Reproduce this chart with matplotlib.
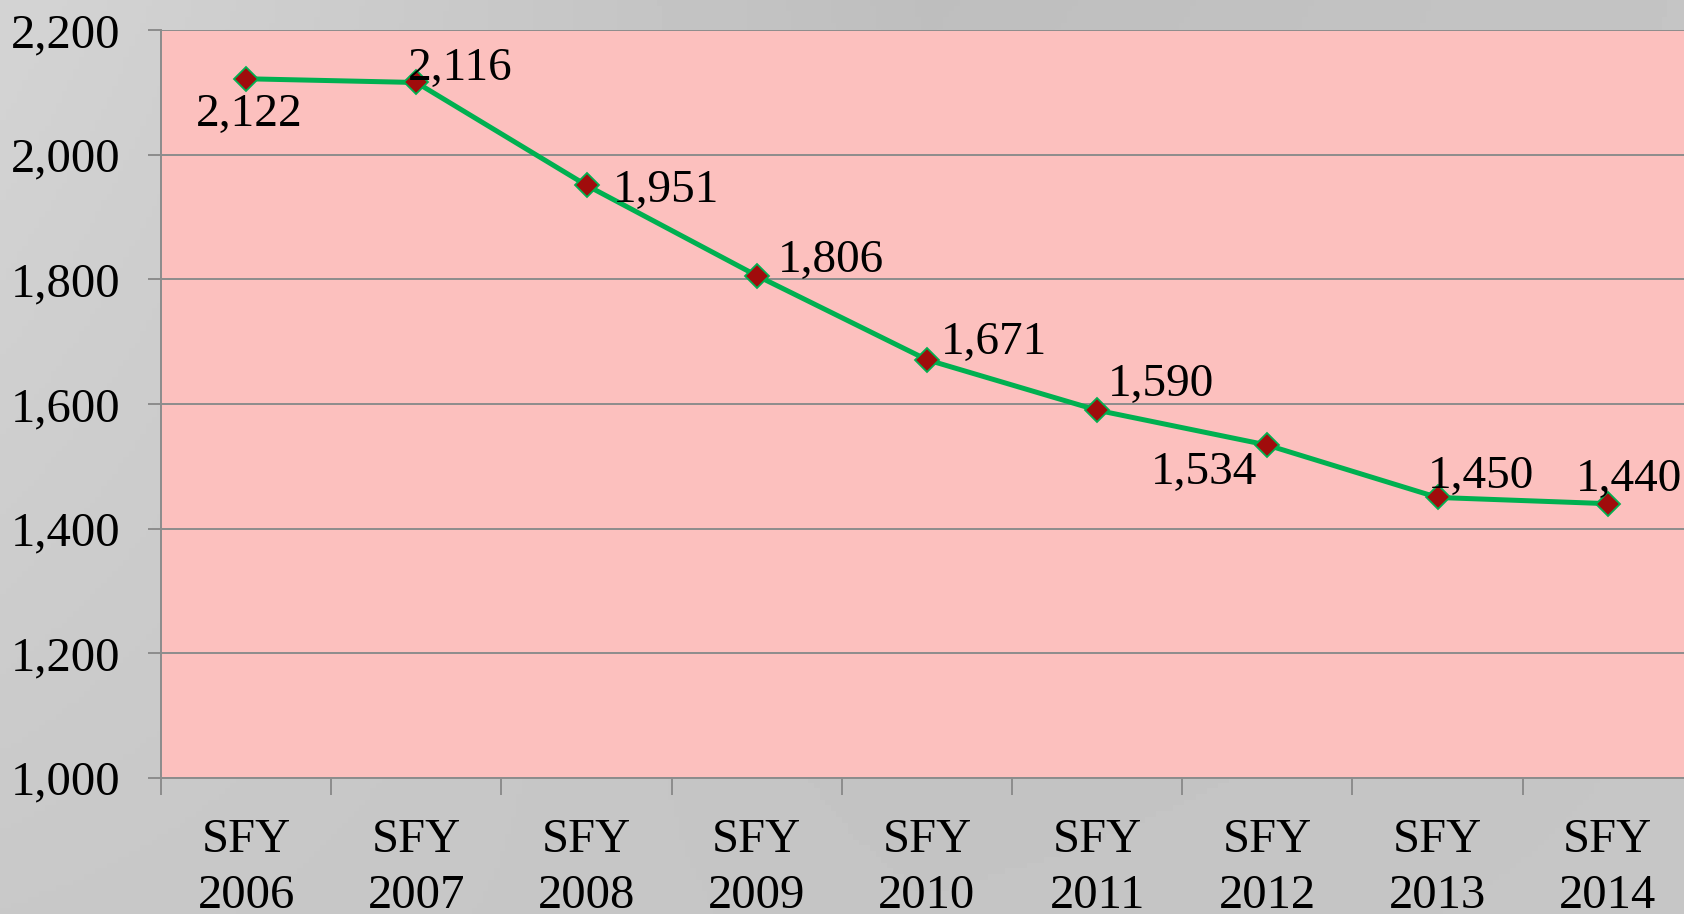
import numpy as np
import matplotlib
matplotlib.use("Agg")
import matplotlib.pyplot as plt
from matplotlib.ticker import FuncFormatter, FixedLocator

plt.rcParams['font.family'] = ['Liberation Serif', 'DejaVu Serif']

years = ["2006", "2007", "2008", "2009", "2010", "2011", "2012", "2013", "2014"]
values = [2122, 2116, 1951, 1806, 1671, 1590, 1534, 1450, 1440]
y_ticks = [1000, 1200, 1400, 1600, 1800, 2000, 2200]

# label placement (offset points, alignment) per point
lbl_offsets = [(2, -26), (-6, 10), (19, -4), (15, 11), (10, 12),
               (8, 18), (-7, -20), (-7, 15), (-23, 17)]
lbl_align = ['center', 'left', 'left', 'left', 'left', 'left', 'right', 'left', 'left']

fig = plt.figure(figsize=(16.84, 9.14), dpi=100)

# gray gradient background: darkest near top centre, lighter towards top-left
bg = fig.add_axes([0, 0, 1, 1], zorder=-10)
gx = np.linspace(0, 1, 300)
gy = np.linspace(0, 1, 160)
X, Y = np.meshgrid(gx, gy)
top = np.interp(gx, [0, 0.55, 1], [0.83, 0.745, 0.77])
bot = np.interp(gx, [0, 0.55, 1], [0.785, 0.77, 0.775])
shade = top[None, :] * (1 - Y) + bot[None, :] * Y
bg.imshow(shade, cmap='gray', vmin=0, vmax=1, aspect='auto', extent=[0, 1, 0, 1], origin='upper')
bg.axis('off')

ax = fig.add_axes([0.0956, 0.149, 0.9097, 0.818])
ax.set_facecolor('#FCC0BE')

x = np.arange(len(values))
ax.plot(x, values, color='#00B050', lw=3.6, marker='D', ms=12,
        markerfacecolor='#A00C0C', markeredgecolor='#00B050', markeredgewidth=1.3, zorder=5)

for i, v in enumerate(values):
    ax.annotate(f"{v:,}", (x[i], v), xytext=lbl_offsets[i], textcoords='offset points',
                ha=lbl_align[i], va='center', fontsize=34, color='black', zorder=6)

ax.set_xlim(-0.5, len(values) - 0.5)
ax.set_ylim(1000, 2200)
ax.set_yticks(y_ticks)
ax.yaxis.set_major_formatter(FuncFormatter(lambda v, p: f"{int(v):,}"))
ax.grid(axis='y', color='#8C8C8C', lw=1.4)
ax.set_axisbelow(True)

ax.set_xticks(x)
ax.set_xticklabels([f"SFY\n{y}" for y in years], linespacing=1.35)
ax.xaxis.set_minor_locator(FixedLocator(np.arange(-0.5, len(values), 1.0)))
ax.tick_params(axis='x', which='major', length=0, pad=29, labelsize=35)
ax.tick_params(axis='x', which='minor', length=12, width=1.4, color='#8C8C8C')
ax.tick_params(axis='y', length=9.5, width=1.4, color='#8C8C8C', pad=20, labelsize=35)

for s in ['top', 'right']:
    ax.spines[s].set_visible(False)
for s in ['left', 'bottom']:
    ax.spines[s].set_color('#8C8C8C')
    ax.spines[s].set_linewidth(1.4)

fig.savefig("out.png", dpi=100)
